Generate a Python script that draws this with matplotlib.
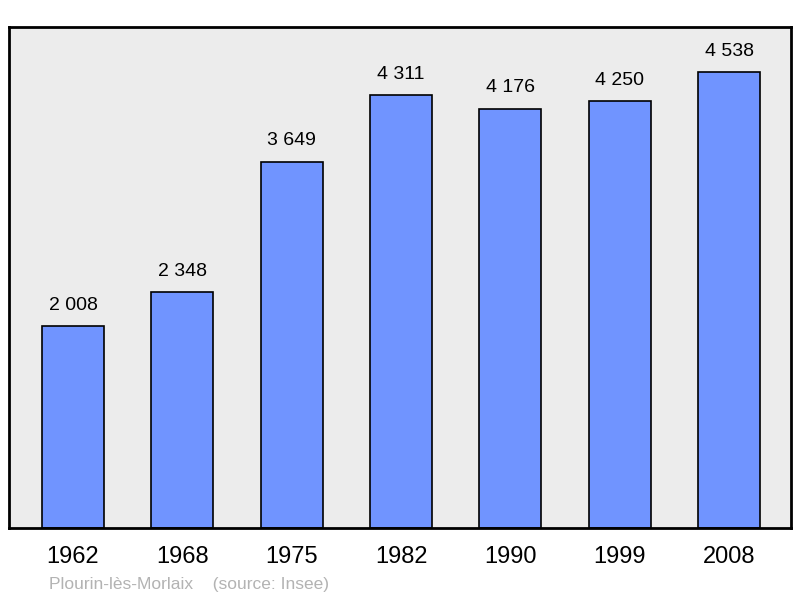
import matplotlib.pyplot as plt

plt.rcParams['font.family'] = ['Liberation Sans', 'DejaVu Sans']

years = ['1962', '1968', '1975', '1982', '1990', '1999', '2008']
population = [2008, 2348, 3649, 4311, 4176, 4250, 4538]
value_labels = ['2 008', '2 348', '3 649', '4 311', '4 176', '4 250', '4 538']

fig = plt.figure(figsize=(8, 5.98), dpi=100)
ax = fig.add_axes([9 / 800, 1 - 528 / 598, 782 / 800, 501 / 598])
ax.set_facecolor('#ececec')

x = range(len(years))
bars = ax.bar(x, population, width=0.567, color='#7094ff', edgecolor='black', linewidth=1.2)

for b, lab in zip(bars, value_labels):
    ax.annotate(lab, (b.get_x() + b.get_width() / 2, b.get_height()),
                xytext=(0, 9), textcoords='offset points',
                ha='center', va='bottom', fontsize=14)

ax.set_xlim(-0.585, 6.565)
ax.set_ylim(0, 4990)
ax.set_yticks([])
ax.set_xticks(list(x))
ax.set_xticklabels(years, fontsize=17)
ax.tick_params(axis='x', length=0, pad=13)
for s in ax.spines.values():
    s.set_linewidth(2)

fig.text(49 / 800, 1 - 584 / 598, 'Plourin-lès-Morlaix    (source: Insee)',
         fontsize=12.5, color='#b3b3b3', va='center', ha='left')

plt.savefig('out.png', dpi=100)
